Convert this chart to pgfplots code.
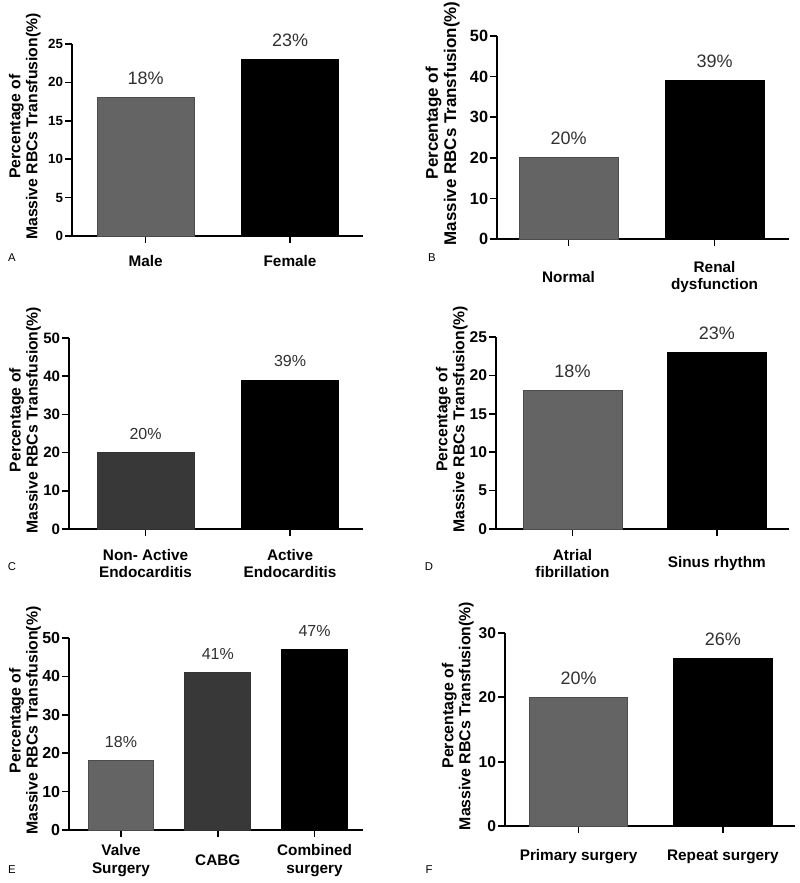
\documentclass[border=0pt]{standalone}
\usepackage{fontspec}
\setmainfont{Liberation Sans}
\usepackage{pgfplots}
\pgfplotsset{compat=1.18}
\definecolor{barg}{HTML}{646464}
\definecolor{bard}{HTML}{383838}
\definecolor{vtxt}{HTML}{303030}
\pgfplotsset{
  /pgf/number format/assume math mode=true,
  panel/.style={
    scale only axis, anchor=south west,
    axis lines*=left,
    axis line style={line width=1.3pt, black},
    tick align=outside, major tick length=5pt,
    tick style={line width=1.3pt, black},
    ymin=0, ybar,
    nodes near coords={\pgfmathprintnumber{\pgfplotspointmeta}\%},
    every node near coord/.append style={text=vtxt, inner sep=0pt, yshift=9.5pt},
    ylabel={Percentage of\\Massive RBCs Transfusion(\%)},
    ylabel style={align=center, anchor=south, inner sep=0pt},
    xticklabel style={align=center, anchor=center, font=\bfseries\fontsize{11.5}{13}\selectfont},
    yticklabel style={inner sep=1.5pt},
    clip=false,
  },
  gb/.style={fill=barg, draw=black!70, line width=0.6pt, bar shift=0pt},
  db/.style={fill=bard, draw=black!80, line width=0.6pt, bar shift=0pt},
  kb/.style={fill=black, draw=black, line width=0.6pt, bar shift=0pt},
}
\begin{document}
\begin{tikzpicture}
\useasboundingbox (0pt,0pt) rectangle (600pt,-662.25pt);

% ---------- A ----------
\begin{axis}[panel, at={(54pt,-177pt)}, width=218.25pt, height=144pt,
  xmin=-0.509, xmax=1.505, ymax=25, ytick={0,5,10,15,20,25},
  bar width=0.67, xtick={0,1}, xticklabels={Male,Female},
  xticklabel style={yshift=-13.5pt},
  yticklabel style={font=\bfseries\fontsize{10}{12}\selectfont},
  every node near coord/.append style={font=\fontsize{13.5}{15}\selectfont},
  ylabel style={at={(axis description cs:-0.107,0.57)}, font=\bfseries\fontsize{11.8}{12.75}\selectfont}]
\addplot[gb] coordinates {(0,18)};
\addplot[kb] coordinates {(1,23)};
\end{axis}

% ---------- B ----------
\begin{axis}[panel, at={(372.75pt,-179.25pt)}, width=219pt, height=152.25pt,
  xmin=-0.49, xmax=1.51, ymax=50, ytick={0,10,20,30,40,50},
  bar width=0.68, xtick={0,1}, xticklabels={Normal,{Renal\\dysfunction}},
  xticklabel style={yshift=-23.5pt},
  yticklabel style={font=\bfseries\fontsize{12.2}{14}\selectfont},
  every node near coord/.append style={font=\fontsize{13.5}{15}\selectfont},
  ylabel style={at={(axis description cs:-0.127,0.57)}, font=\bfseries\fontsize{12.7}{13.7}\selectfont}]
\addplot[gb] coordinates {(0,20)};
\addplot[kb] coordinates {(1,39)};
\end{axis}

% ---------- C ----------
\begin{axis}[panel, at={(51.75pt,-396.75pt)}, width=220.5pt, height=143.25pt,
  xmin=-0.53, xmax=1.505, ymax=50, ytick={0,10,20,30,40,50},
  bar width=0.67, xtick={0,1}, xticklabels={{Non- Active\\Endocarditis},{Active\\Endocarditis}},
  xticklabel style={yshift=-21pt},
  yticklabel style={font=\bfseries\fontsize{11.3}{13}\selectfont},
  every node near coord/.append style={font=\fontsize{12}{14}\selectfont},
  ylabel style={at={(axis description cs:-0.095,0.57)}, font=\bfseries\fontsize{11.8}{12.75}\selectfont}]
\addplot[db] coordinates {(0,20)};
\addplot[kb] coordinates {(1,39)};
\end{axis}

% ---------- D ----------
\begin{axis}[panel, at={(372pt,-396.75pt)}, width=219.75pt, height=144pt,
  xmin=-0.53, xmax=1.50, ymax=25, ytick={0,5,10,15,20,25},
  bar width=0.685, xtick={0,1}, xticklabels={{Atrial\\fibrillation},{Sinus rhythm}},
  xticklabel style={yshift=-21pt},
  yticklabel style={font=\bfseries\fontsize{11.7}{13}\selectfont},
  every node near coord/.append style={font=\fontsize{13.5}{15}\selectfont},
  ylabel style={at={(axis description cs:-0.096,0.57)}, font=\bfseries\fontsize{11.8}{12.75}\selectfont}]
\addplot[gb] coordinates {(0,18)};
\addplot[kb] coordinates {(1,23)};
\end{axis}

% ---------- E ----------
\begin{axis}[panel, at={(51.75pt,-622.5pt)}, width=220.5pt, height=144pt,
  xmin=-0.537, xmax=2.50, ymax=50, ytick={0,10,20,30,40,50},
  bar width=0.68, xtick={0,1,2}, xticklabels={{Valve\\Surgery},CABG,{Combined\\surgery}},
  xticklabel style={yshift=-18pt},
  yticklabel style={font=\bfseries\fontsize{12}{14}\selectfont},
  every node near coord/.append style={font=\fontsize{12}{14}\selectfont},
  ylabel style={at={(axis description cs:-0.095,0.57)}, font=\bfseries\fontsize{11.9}{12.75}\selectfont}]
\addplot[gb] coordinates {(0,18)};
\addplot[db] coordinates {(1,41)};
\addplot[kb] coordinates {(2,47)};
\end{axis}

% ---------- F ----------
\begin{axis}[panel, at={(378.75pt,-619.5pt)}, width=217.5pt, height=144.75pt,
  xmin=-0.51, xmax=1.50, ymax=30, ytick={0,10,20,30},
  bar width=0.68, xtick={0,1}, xticklabels={Primary surgery,Repeat surgery},
  xticklabel style={yshift=-18pt},
  yticklabel style={font=\bfseries\fontsize{11.7}{13}\selectfont},
  every node near coord/.append style={font=\fontsize{13.5}{15}\selectfont},
  ylabel style={at={(axis description cs:-0.107,0.57)}, font=\bfseries\fontsize{11.9}{12.75}\selectfont}]
\addplot[gb] coordinates {(0,20)};
\addplot[kb] coordinates {(1,26)};
\end{axis}

% panel letters
\node[font=\fontsize{8.5}{10}\selectfont] at (9pt,-193.5pt) {A};
\node[font=\fontsize{8.5}{10}\selectfont] at (324pt,-193.5pt) {B};
\node[font=\fontsize{8.5}{10}\selectfont] at (9pt,-425.25pt) {C};
\node[font=\fontsize{8.5}{10}\selectfont] at (321.75pt,-425.25pt) {D};
\node[font=\fontsize{8.5}{10}\selectfont] at (9pt,-652.5pt) {E};
\node[font=\fontsize{8.5}{10}\selectfont] at (321.75pt,-652.5pt) {F};
\end{tikzpicture}
\end{document}
